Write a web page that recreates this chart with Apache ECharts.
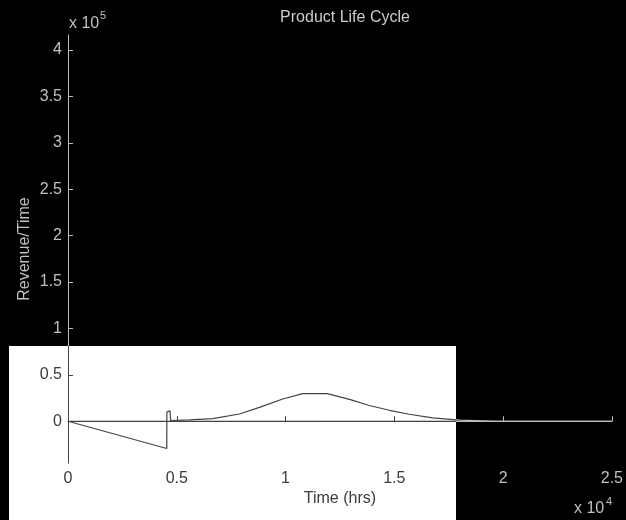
<!DOCTYPE html>
<html>
<head>
<meta charset="utf-8">
<title>Product Life Cycle</title>
<script src="https://cdn.jsdelivr.net/npm/echarts@6/dist/echarts.min.js"></script>
<style>
  html, body { margin: 0; padding: 0; background: #000; }
  #chart { width: 626px; height: 520px; }
</style>
</head>
<body>
<div id="chart"></div>
<script>
// Revenue rate over the life of the product (time in hours)
const timeHrs = [0, 4540, 4545, 4565, 4690, 4710, 4720, 4760, 5590, 6650, 7880, 8800, 9870, 10790,
                 11920, 12940, 13850, 14770, 15690, 16760, 17990, 19680, 25000];
const revenue = [0, -29400, 10000, 11200, 11200, 10000, 800, 800, 1500, 2900, 7800, 15000, 24000, 29700,
                 29700, 23500, 17000, 11800, 7500, 3600, 1100, 0, 0];
// Zero reference line across the full time span
const zeroTime = [0, 25000];
const zeroValue = [0, 0];

const xTicks = [0, 5000, 10000, 15000, 20000, 25000];
const yTicks = [0, 50000, 100000, 150000, 200000, 250000, 300000, 350000, 400000];

const fg = '#c6bebe';
const lineCol = '#bdbdbd';
const font = 'Liberation Sans, Arial, Helvetica, sans-serif';

const chart = echarts.init(document.getElementById('chart'), null, { renderer: 'canvas' });

const fmt = (v, scale) => String(+(v / scale).toFixed(2));

chart.setOption({
  backgroundColor: '#000',
  animation: false,
  title: {
    text: 'Product Life Cycle',
    left: 340,
    top: 5,
    textAlign: 'center',
    textStyle: { color: '#d2c8c4', fontFamily: font, fontSize: 16, fontWeight: 'normal' }
  },
  grid: { left: 68, top: 35, width: 544, height: 428, containLabel: false },
  xAxis: {
    type: 'value',
    min: 0,
    max: 25000,
    interval: 5000,
    name: 'Time (hrs)',
    nameLocation: 'middle',
    nameGap: 28,
    nameMoveOverlap: false,
    nameTextStyle: { color: fg, fontFamily: font, fontSize: 16 },
    axisLine: { show: true, lineStyle: { color: lineCol, width: 1 } },
    axisTick: { show: true, inside: true, length: 5, customValues: xTicks, lineStyle: { color: lineCol } },
    axisLabel: {
      color: fg, fontFamily: font, fontSize: 16, margin: 8,
      customValues: xTicks,
      formatter: v => fmt(v, 1e4)
    },
    splitLine: { show: false }
  },
  yAxis: {
    type: 'value',
    min: -45000,
    max: 416200,
    name: 'Revenue/Time',
    nameLocation: 'middle',
    nameRotate: 90,
    nameGap: 35,
    nameMoveOverlap: false,
    nameTextStyle: { color: fg, fontFamily: font, fontSize: 16 },
    axisLine: { show: true, lineStyle: { color: lineCol, width: 1 } },
    axisTick: { show: true, inside: true, length: 5, customValues: yTicks, lineStyle: { color: lineCol } },
    axisLabel: {
      color: fg, fontFamily: font, fontSize: 16, margin: 6,
      customValues: yTicks,
      formatter: v => fmt(v, 1e5)
    },
    splitLine: { show: false }
  },
  series: [
    {
      type: 'line',
      data: zeroTime.map((t, i) => [t, zeroValue[i]]),
      showSymbol: false,
      lineStyle: { color: lineCol, width: 1 },
      z: 2
    },
    {
      type: 'line',
      data: timeHrs.map((t, i) => [t, revenue[i]]),
      showSymbol: false,
      lineStyle: { color: lineCol, width: 1.2 },
      z: 3
    }
  ],
  graphic: [
    // axis multipliers
    { type: 'text', left: 69, top: 16, z: 50,
      style: { text: 'x 10', fill: fg, font: '16px ' + font } },
    { type: 'text', left: 100, top: 10, z: 50,
      style: { text: '5', fill: fg, font: '11px ' + font } },
    { type: 'text', left: 574, top: 501, z: 50,
      style: { text: 'x 10', fill: fg, font: '16px ' + font } },
    { type: 'text', left: 606, top: 496, z: 50,
      style: { text: '4', fill: fg, font: '11px ' + font } },
    // inverted panel over the lower-left part of the figure
    { type: 'rect', z: 100,
      shape: { x: 9, y: 346, width: 447, height: 174 },
      style: { fill: '#ffffff', blend: 'difference' } }
  ]
});
</script>
</body>
</html>
